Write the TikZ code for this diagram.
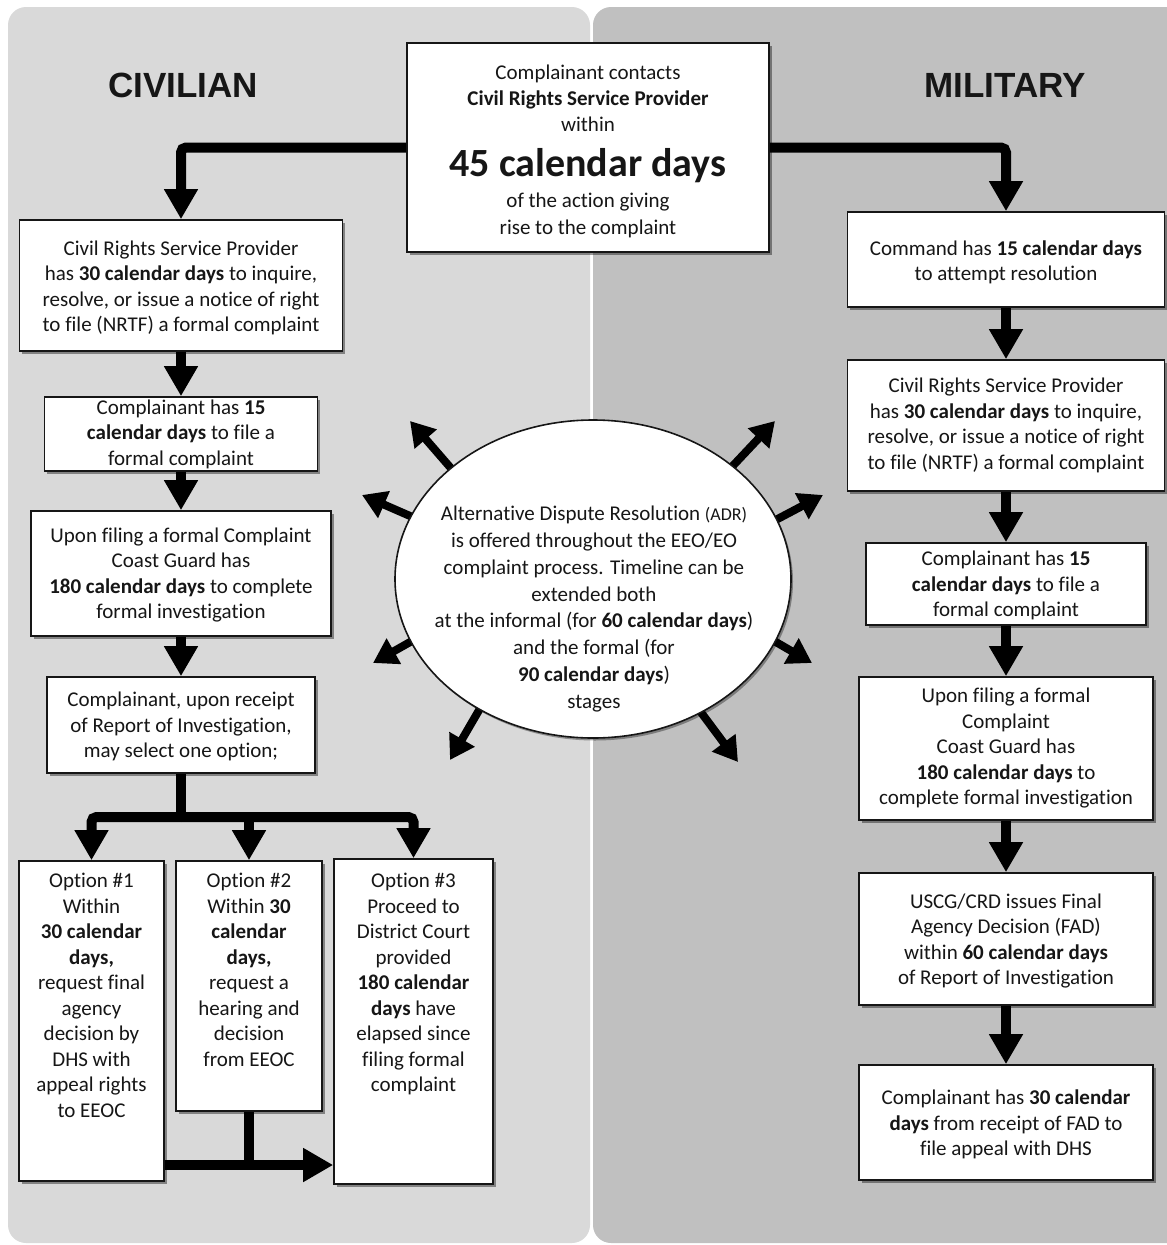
\documentclass[tikz,border=0pt]{standalone}
\usepackage{fontspec}
\setmainfont{Carlito}[Ligatures=NoCommon]
\newfontfamily\arialfont{Liberation Sans}
\usetikzlibrary{arrows.meta,shapes.geometric,shadows,backgrounds,calc}
\definecolor{leftpanel}{RGB}{217,217,217}
\definecolor{rightpanel}{RGB}{192,192,192}
\definecolor{ink}{RGB}{22,22,22}
\lineskiplimit=-100pt
\newcommand{\bodyfont}{\fontsize{21}{25.5}\selectfont}
\begin{document}
\begin{tikzpicture}[x=1pt,y=-1pt,
 box/.style={draw=ink, line width=1.6pt, fill=white, inner sep=2pt, align=center, font=\bodyfont, text=ink,
   drop shadow={shadow xshift=2.5pt, shadow yshift=-2.5pt, opacity=0.4, fill=black}},
 txt/.style={align=center, inner sep=0pt, font=\bodyfont, text=ink},
 title/.style={font=\arialfont\bfseries\fontsize{35}{40}\selectfont, text=ink, inner sep=0pt},
 flow/.style={draw=black, line width=10pt, -{Triangle[width=32pt,length=30pt]}},
 trunk/.style={draw=black, line width=10pt},
 adrarrow/.style={draw=black, line width=8pt, -{Triangle[width=28pt,length=24pt]}},
]
\useasboundingbox (0,0) rectangle (1167,1245);
\begin{pgfonlayer}{background}
\fill[leftpanel, rounded corners=18pt] (8,7) rectangle (590,1243);
\fill[rightpanel, rounded corners=18pt] (593,7) rectangle (1200,1243);
\end{pgfonlayer}

% titles
\node[title] (civ) at (183,85) {CIVILIAN};
\node[title] (mil) at (1005,85) {MILITARY};

% top box
\node[box, minimum width=362pt, minimum height=209pt, font=\fontsize{21}{26}\selectfont] (top) at (588,147.5)
 {\rule{0pt}{23pt}Complainant contacts\\ \textbf{Civil Rights Service Provider}\\ within\\[19pt]
  {\fontsize{40}{44}\selectfont\bfseries 45 calendar days}\\[5pt]
  of the action giving\\[1pt] rise to the complaint};

% civilian column
\node[box, minimum width=323pt, minimum height=131pt] (l1) at (181,285.5)
 {\rule{0pt}{19pt}Civil Rights Service Provider\\ has \textbf{30 calendar days} to inquire,\\ resolve, or issue a notice of right\\ to file (NRTF) a formal complaint};
\node[box, minimum width=273pt, minimum height=74pt, inner sep=0pt] (l2) at (181,434)
 {Complainant has \textbf{15}\\ \textbf{calendar days} to file a\\ formal complaint};
\node[box, minimum width=300pt, minimum height=125pt] (l3) at (181,573.5)
 {\rule{0pt}{18pt}Upon filing a formal Complaint\\ Coast Guard has\\ \textbf{180 calendar days} to complete\\ formal investigation};
\node[box, minimum width=268pt, minimum height=96pt] (l4) at (181,725)
 {\rule{0pt}{18pt}Complainant, upon receipt\\ of Report of Investigation,\\ may select one option;};

% options
\node[box, minimum width=145pt, minimum height=320pt] (o1) at (91.5,1021) {};
\node[txt, anchor=north] (o1t) at ([yshift=-13pt]o1.north)
 {Option \#1\\ Within\\ \textbf{30 calendar}\\ \textbf{days,}\\ request final\\ agency\\ decision by\\ DHS with\\ appeal rights\\ to EEOC};
\node[box, minimum width=146pt, minimum height=250pt] (o2) at (249,986) {};
\node[txt, anchor=north] (o2t) at ([yshift=-13pt]o2.north)
 {Option \#2\\ Within \textbf{30}\\ \textbf{calendar}\\ \textbf{days,}\\ request a\\ hearing and\\ decision\\ from EEOC};
\node[box, minimum width=159pt, minimum height=325pt] (o3) at (413.5,1021.5) {};
\node[txt, anchor=north] (o3t) at ([yshift=-15pt]o3.north)
 {Option \#3\\ Proceed to\\ District Court\\ provided\\ \textbf{180 calendar}\\ \textbf{days} have\\ elapsed since\\ filing formal\\ complaint};

% military column
\node[box, minimum width=317pt, minimum height=95pt] (r1) at (1006,259.5)
 {\rule{0pt}{20pt}Command has \textbf{15 calendar days}\\ to attempt resolution};
\node[box, minimum width=317pt, minimum height=131pt] (r2) at (1006,425.5)
 {Civil Rights Service Provider\\ has \textbf{30 calendar days} to inquire,\\ resolve, or issue a notice of right\\ to file (NRTF) a formal complaint};
\node[box, minimum width=280pt, minimum height=82pt, inner sep=0pt] (r3) at (1006,584)
 {\rule{0pt}{18pt}Complainant has \textbf{15}\\ \textbf{calendar days} to file a\\ formal complaint};
\node[box, minimum width=294pt, minimum height=143pt] (r4) at (1006,748.5)
 {Upon filing a formal\\ Complaint\\ Coast Guard has\\ \textbf{180 calendar days} to\\ complete formal investigation};
\node[box, minimum width=294pt, minimum height=132pt] (r5) at (1006,939)
 {\rule{0pt}{19pt}USCG/CRD issues Final\\ Agency Decision (FAD)\\ within \textbf{60 calendar days}\\ of Report of Investigation};
\node[box, minimum width=294pt, minimum height=115pt] (r6) at (1006,1122.5)
 {\rule{0pt}{19pt}Complainant has \textbf{30 calendar}\\ \textbf{days} from receipt of FAD to\\ file appeal with DHS};

% ADR ellipse
\node[ellipse, draw=ink, line width=1.6pt, fill=white, minimum width=396pt, minimum height=318pt, inner sep=0pt,
  drop shadow={shadow xshift=2pt, shadow yshift=-2.5pt, opacity=0.35, fill=black}] (adr) at (593,579) {};
\node[txt, font=\fontsize{21}{26.9}\selectfont] (adrt) at (594,609)
 {Alternative Dispute Resolution {\fontsize{18}{20}\selectfont (ADR)}\\ is offered throughout the EEO/EO\\ complaint process. Timeline can be\\ extended both\\ at the informal (for \textbf{60 calendar days})\\ and the formal (for\\ \textbf{90 calendar days})\\ stages};

\begin{pgfonlayer}{background}
\foreach \ang/\tx/\ty in {142/410/421,161/362/495,199/373/663,229/450/760,39/775/421,18/823/495,341/812/663,309/738/762}{
  \coordinate (tip\ang) at (\tx,\ty);
  \draw[adrarrow] ($(adr.\ang)!-12pt!(tip\ang)$) -- (tip\ang);
}
\end{pgfonlayer}

% connectors
\draw[flow, rounded corners=5pt] (top.west) -| (l1.north);
\draw[flow, rounded corners=5pt] (top.east) -| (r1.north);
\draw[flow] (l1.south) -- (l2.north);
\draw[flow] (l2.south) -- (l3.north);
\draw[flow] (l3.south) -- (l4.north);
\coordinate (split) at (181,817);
\draw[trunk] (l4.south) -- (split);
\draw[flow, rounded corners=5pt] (split) -| (o1.north);
\draw[flow, rounded corners=5pt] (split) -| (o3.north);
\draw[flow] (o2.north |- split) -- (o2.north);
\coordinate (join) at (249,1165);
\draw[trunk] (o2.south) -- (join);
\draw[flow] (o1.east |- join) -- (o3.west |- join);

\draw[flow] (r1.south) -- (r2.north);
\draw[flow] (r2.south) -- (r3.north);
\draw[flow] (r3.south) -- (r4.north);
\draw[flow] (r4.south) -- (r5.north);
\draw[flow] (r5.south) -- (r6.north);
\end{tikzpicture}
\end{document}
